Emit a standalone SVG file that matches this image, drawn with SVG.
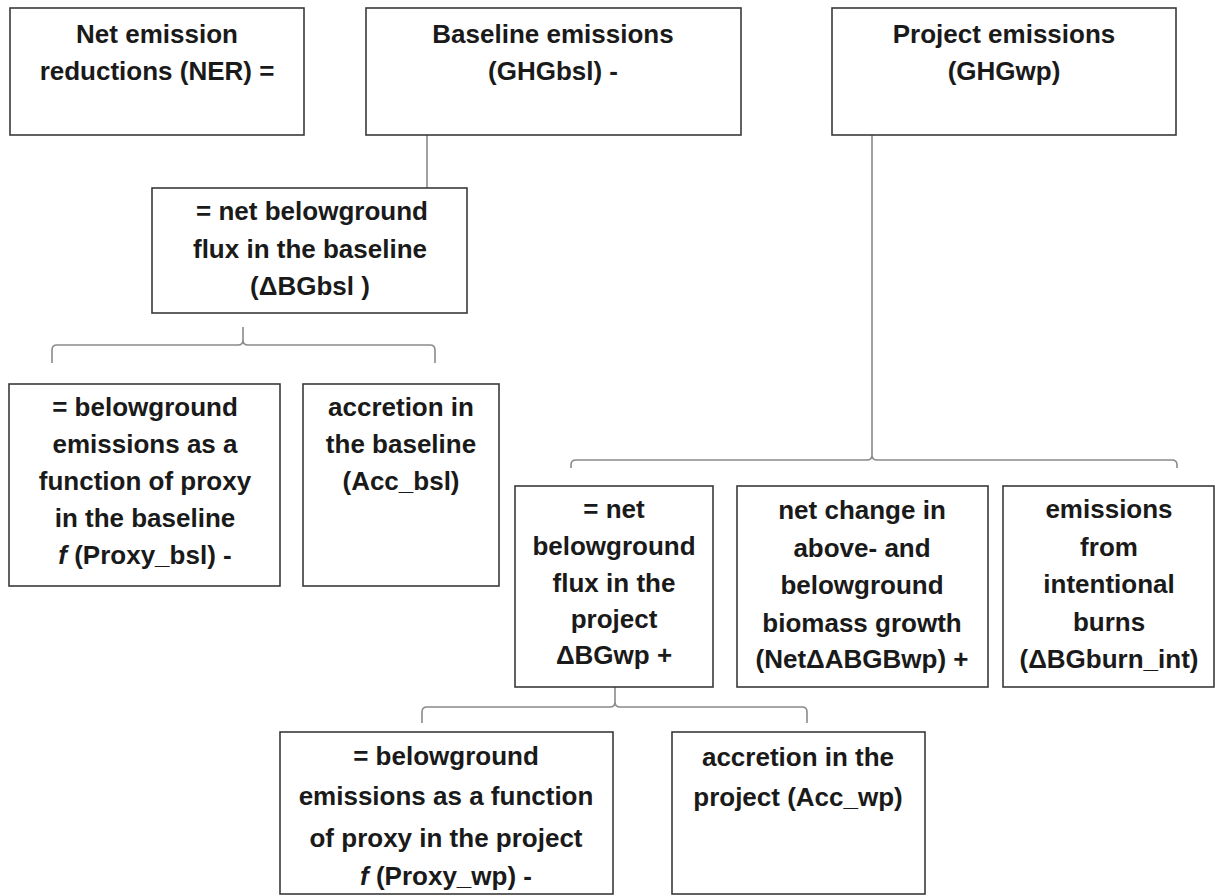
<svg xmlns="http://www.w3.org/2000/svg" width="1215" height="896" viewBox="0 0 1215 896">
<style>
.box{fill:#fff;stroke:#3a3a3a;stroke-width:1.6}
.t{font-family:"Liberation Sans",Arial,sans-serif;font-weight:bold;font-size:26px;fill:#1a1a1a;text-anchor:middle}
.c{fill:none;stroke:#8a8a8a;stroke-width:1.6}
</style>
<rect width="1215" height="896" fill="#fff"/>
<g id="connectors">
<line class="c" x1="427" y1="135" x2="427" y2="188"/>
<path class="c" d="M52,363 L52,350 Q52,345 57,345 L238,345 Q243,345 243,340 L243,327 M243,340 Q243,345 248,345 L430,345 Q435,345 435,350 L435,363"/>
<line class="c" x1="872" y1="135" x2="872" y2="455"/>
<path class="c" d="M571,468 L571,465 Q571,460 576,460 L867,460 Q872,460 872,455 M872,455 Q872,460 877,460 L1172,460 Q1177,460 1177,465 L1177,468"/>
<path class="c" d="M422,723 L422,712 Q422,707 427,707 L610,707 Q615,707 615,702 L615,687 M615,702 Q615,707 620,707 L802,707 Q807,707 807,712 L807,723"/>
</g>
<g id="ner">
<rect class="box" x="10" y="8" width="294" height="127"/>
<text class="t" x="157" y="43">Net emission</text>
<text class="t" x="157" y="80">reductions (NER) =</text>
</g>
<g id="baseline">
<rect class="box" x="366" y="8" width="375" height="127"/>
<text class="t" x="553" y="43">Baseline emissions</text>
<text class="t" x="553" y="80">(GHGbsl) -</text>
</g>
<g id="project">
<rect class="box" x="832" y="8" width="344" height="127"/>
<text class="t" x="1004" y="43">Project emissions</text>
<text class="t" x="1004" y="80">(GHGwp)</text>
</g>
<g id="bgbsl">
<rect class="box" x="152" y="188" width="315" height="125"/>
<text class="t" x="312" y="220">= net belowground</text>
<text class="t" x="310" y="258">flux in the baseline</text>
<text class="t" x="310" y="295">(ΔBGbsl )</text>
</g>
<g id="proxy-bsl">
<rect class="box" x="9" y="384" width="271" height="202"/>
<text class="t" x="145" y="416">= belowground</text>
<text class="t" x="145" y="453">emissions as a</text>
<text class="t" x="145" y="490">function of proxy</text>
<text class="t" x="145" y="527">in the baseline</text>
<text class="t" x="145" y="564"><tspan font-style="italic">f</tspan> (Proxy_bsl) -</text>
</g>
<g id="acc-bsl">
<rect class="box" x="303" y="384" width="196" height="202"/>
<text class="t" x="401" y="416">accretion in</text>
<text class="t" x="401" y="453">the baseline</text>
<text class="t" x="401" y="490">(Acc_bsl)</text>
</g>
<g id="bgwp">
<rect class="box" x="515" y="486" width="198" height="201"/>
<text class="t" x="614" y="518">= net</text>
<text class="t" x="614" y="555">belowground</text>
<text class="t" x="614" y="592">flux in the</text>
<text class="t" x="614" y="628">project</text>
<text class="t" x="614" y="664">ΔBGwp +</text>
</g>
<g id="abgbwp">
<rect class="box" x="737" y="486" width="251" height="201"/>
<text class="t" x="862" y="519">net change in</text>
<text class="t" x="862" y="557">above- and</text>
<text class="t" x="862" y="594">belowground</text>
<text class="t" x="862" y="632">biomass growth</text>
<text class="t" x="862" y="668">(NetΔABGBwp) +</text>
</g>
<g id="burn">
<rect class="box" x="1003" y="486" width="211" height="201"/>
<text class="t" x="1109" y="518">emissions</text>
<text class="t" x="1109" y="556">from</text>
<text class="t" x="1109" y="593">intentional</text>
<text class="t" x="1109" y="631">burns</text>
<text class="t" x="1109" y="668">(ΔBGburn_int)</text>
</g>
<g id="proxy-wp">
<rect class="box" x="280" y="732" width="333" height="162"/>
<text class="t" x="446" y="765">= belowground</text>
<text class="t" x="446" y="805">emissions as a function</text>
<text class="t" x="446" y="847">of proxy in the project</text>
<text class="t" x="446" y="885"><tspan font-style="italic">f</tspan> (Proxy_wp) -</text>
</g>
<g id="acc-wp">
<rect class="box" x="672" y="732" width="253" height="162"/>
<text class="t" x="798" y="766">accretion in the</text>
<text class="t" x="798" y="806">project (Acc_wp)</text>
</g>
</svg>
